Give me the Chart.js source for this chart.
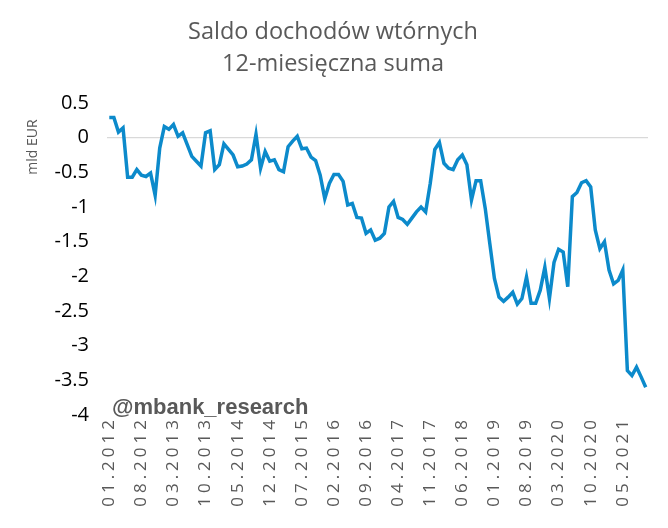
<!DOCTYPE html>
<html>
<head>
<meta charset="utf-8">
<script src="https://cdn.jsdelivr.net/npm/chart.js@4/dist/chart.umd.min.js"></script>
<style>
  html, body { margin: 0; padding: 0; background: #fff; }
  #wrap { width: 668px; height: 528px; }
</style>
</head>
<body>
<div id="wrap"><canvas id="chart" width="668" height="528"></canvas></div>
<script>
// Saldo dochodów wtórnych, 12-miesięczna suma (mld EUR), dane miesięczne 01.2012 - 10.2021

const TITLE_LINES = ["Saldo dochodów wtórnych", "12-miesięczna suma"];
const Y_TITLE = "mld EUR";
const WATERMARK = "@mbank_research";

const FIRST_YEAR = 2012;
const MONTH_COUNT = 118;

// etykiety osi X widoczne na wykresie (co 7 miesięcy)
const TICK_LABELS = [
  "01.2012", "08.2012", "03.2013", "10.2013", "05.2014", "12.2014",
  "07.2015", "02.2016", "09.2016", "04.2017", "11.2017", "06.2018",
  "01.2019", "08.2019", "03.2020", "10.2020", "05.2021",
];

const Y_MIN = -4;
const Y_MAX = 0.5;
const Y_STEP = 0.5;

const SALDO = [
   0.29,  0.29,  0.08,  0.14, -0.57, -0.57, -0.46, -0.54, -0.56, -0.51, -0.83, -0.15,
   0.16,  0.12,  0.19,  0.02,  0.07, -0.10, -0.27, -0.34, -0.41,  0.07,  0.10, -0.46,
  -0.39, -0.09, -0.17, -0.25, -0.42, -0.41, -0.38, -0.32,  0.05, -0.44, -0.20, -0.34,
  -0.32, -0.46, -0.49, -0.13, -0.05,  0.02, -0.16, -0.15, -0.28, -0.33, -0.54, -0.88,
  -0.66, -0.53, -0.53, -0.63, -0.97, -0.95, -1.15, -1.16, -1.38, -1.33, -1.48, -1.45,
  -1.38, -1.00, -0.92, -1.15, -1.18, -1.25, -1.16, -1.07, -1.00, -1.07, -0.66, -0.17,
  -0.07, -0.37, -0.44, -0.46, -0.32, -0.25, -0.39, -0.90, -0.62, -0.62, -1.02, -1.53,
  -2.03, -2.30, -2.36, -2.30, -2.23, -2.40, -2.32, -2.01, -2.39, -2.39, -2.20, -1.87,
  -2.32, -1.80, -1.61, -1.65, -2.15, -0.85, -0.79, -0.65, -0.62, -0.71, -1.33, -1.60,
  -1.50, -1.91, -2.11, -2.06, -1.91, -3.36, -3.43, -3.31, -3.45, -3.60,
];

const MONTHS = [];
for (let i = 0; i < MONTH_COUNT; i++) {
  const m = (i % 12) + 1;
  const y = FIRST_YEAR + Math.floor(i / 12);
  MONTHS.push((m < 10 ? "0" : "") + m + "." + y);
}

const LINE_COLOR = "#0c8acb";
const TEXT_GREY = "#595959";

// tytuł, opis osi Y i podpis rysowane jako zwykły tekst
const textPlugin = {
  id: "texts",
  beforeDraw(chart) {
    // rozstrzelone etykiety osi X
    const sx = chart.scales.x;
    if (!sx._spaced) {
      const orig = sx.drawLabels.bind(sx);
      sx.drawLabels = (area) => {
        const c = chart.ctx;
        c.save();
        c.letterSpacing = "4px";
        orig(area);
        c.restore();
      };
      sx._spaced = true;
    }
  },
  afterDraw(chart) {
    const c = chart.ctx;
    c.save();
    c.fillStyle = TEXT_GREY;
    c.textAlign = "center";
    c.textBaseline = "middle";
    c.font = "23.5px 'Open Sans'";
    c.fillText(TITLE_LINES[0], 333, 32);
    c.fillText(TITLE_LINES[1], 333, 64);

    c.save();
    c.translate(33, 147);
    c.rotate(-Math.PI / 2);
    c.font = "14px 'Open Sans'";
    c.fillText(Y_TITLE, 0, 0);
    c.restore();

    c.textAlign = "left";
    c.font = "bold 22px 'Liberation Sans'";
    c.fillText(WATERMARK, 112, 408);
    c.restore();
  },
};

new Chart(document.getElementById("chart"), {
  type: "line",
  data: {
    labels: MONTHS,
    datasets: [{
      data: SALDO,
      borderColor: LINE_COLOR,
      borderWidth: 3.5,
      pointRadius: 0,
      tension: 0,
      fill: false,
    }],
  },
  options: {
    responsive: false,
    animation: false,
    layout: { padding: { top: 103, right: 20, left: 0, bottom: 0 } },
    plugins: {
      legend: { display: false },
      tooltip: { enabled: false },
    },
    scales: {
      x: {
        offset: true,
        grid: { display: false, drawTicks: false, tickLength: 0 },
        border: { display: false },
        ticks: {
          autoSkip: false,
          minRotation: 90,
          maxRotation: 90,
          padding: 1,
          color: TEXT_GREY,
          font: { family: "Open Sans", size: 17 },
          callback: (v, i) => TICK_LABELS.includes(MONTHS[i]) ? MONTHS[i] : "",
        },
        afterFit: s => { s.height = 113; s.paddingLeft = 0; s.paddingRight = 0; },
      },
      y: {
        min: Y_MIN,
        max: Y_MAX,
        border: { display: false },
        grid: {
          drawTicks: false,
          lineWidth: 1.3,
          color: c => (c.tick && c.tick.value === 0) ? "#d9d9d9" : "rgba(0,0,0,0)",
        },
        ticks: {
          stepSize: Y_STEP,
          padding: 18,
          color: "#000",
          font: { family: "Open Sans", size: 20 },
          callback: v => String(v),
        },
        afterFit: s => { s.width = 107; },
      },
    },
  },
  plugins: [textPlugin],
});
</script>
</body>
</html>
